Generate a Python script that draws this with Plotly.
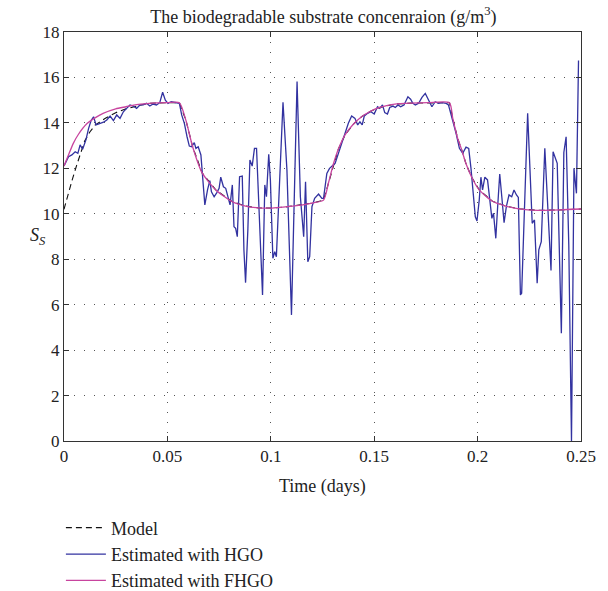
import plotly.graph_objects as go

# ---------------- data ----------------
fhgo_t = [0.0, 0.002, 0.0045, 0.007, 0.0109, 0.015, 0.0189, 0.025, 0.030, 0.035, 0.040, 0.045,
          0.050, 0.0558, 0.059, 0.0622, 0.0668, 0.0734, 0.0814, 0.0878, 0.094, 0.1006, 0.107,
          0.1135, 0.12, 0.1255, 0.128, 0.1303, 0.1327, 0.1359, 0.14, 0.1439, 0.148, 0.1519,
          0.156, 0.16, 0.168, 0.176, 0.1864, 0.188, 0.1904, 0.192, 0.1944, 0.1972, 0.2008,
          0.2072, 0.2132, 0.22, 0.229, 0.24, 0.25]
fhgo_s = [12.1, 12.55, 13.1, 13.5, 13.95, 14.22, 14.42, 14.62, 14.71, 14.8, 14.85, 14.88,
          14.89, 14.89, 14.1, 12.95, 11.8, 11.05, 10.53, 10.34, 10.26, 10.25, 10.3,
          10.37, 10.47, 10.6, 11.4, 12.2, 12.85, 13.47, 13.95, 14.27, 14.5, 14.66,
          14.76, 14.83, 14.87, 14.89, 14.89, 14.2, 13.3, 12.9, 12.2, 11.6, 11.05,
          10.55, 10.35, 10.22, 10.15, 10.17, 10.21]

model_start_t = [0.0, 0.002, 0.004, 0.006, 0.008, 0.010, 0.0125, 0.015, 0.020, 0.025, 0.030, 0.035]
model_start_s = [10.2, 10.9, 11.5, 12.1, 12.7, 13.2, 13.6, 13.9, 14.2, 14.45, 14.62, 14.74]

hgo_t = [0.0, 0.0022, 0.0038, 0.0054, 0.0067, 0.0078, 0.009, 0.0106, 0.0119, 0.0131, 0.0143,
         0.0155, 0.0175, 0.0191, 0.0207, 0.0223, 0.0239, 0.0255, 0.0271, 0.0287, 0.0303,
         0.0319, 0.0335, 0.0351, 0.0367, 0.0383, 0.0399, 0.0415, 0.0431, 0.0447, 0.0463,
         0.0477, 0.049, 0.0503, 0.0519, 0.0535, 0.0558,
         0.0569, 0.0582, 0.0595, 0.0606, 0.0617, 0.063, 0.0638, 0.0649, 0.0662, 0.067,
         0.0681, 0.0694, 0.0705, 0.0713, 0.0726, 0.0739, 0.075, 0.0758, 0.0771, 0.0782,
         0.0793, 0.0803, 0.0814, 0.0822, 0.083, 0.0838, 0.0849, 0.0862, 0.087, 0.0878,
         0.0889, 0.0899, 0.091, 0.0921, 0.0931, 0.096, 0.0971, 0.0979, 0.099, 0.0998,
         0.101, 0.1019, 0.1027, 0.1043, 0.1059, 0.1078, 0.11, 0.1127, 0.1143, 0.1159,
         0.1168, 0.1179, 0.1188, 0.1199, 0.1212, 0.1231, 0.1247, 0.1255, 0.1271, 0.1284,
         0.1295, 0.1311, 0.1327, 0.1343, 0.1359, 0.1375, 0.1391, 0.1407, 0.142, 0.1431,
         0.1442, 0.1452, 0.1468, 0.1484, 0.15, 0.1516, 0.1527, 0.154, 0.1551, 0.1564,
         0.1575, 0.1591, 0.1602, 0.1615, 0.1628, 0.1644, 0.1663, 0.1676, 0.1687, 0.1699,
         0.1715, 0.1731, 0.1747, 0.1763, 0.1779, 0.1795, 0.1811, 0.1827, 0.1848, 0.1859,
         0.188, 0.1896, 0.1912, 0.1928, 0.1944, 0.1957, 0.1968, 0.1979, 0.1989, 0.1997,
         0.2008, 0.2016, 0.2024, 0.2035, 0.2048, 0.2059, 0.2069, 0.2077, 0.2088, 0.2096,
         0.2107, 0.2117, 0.2128, 0.2139, 0.2152, 0.2165, 0.2176, 0.2188, 0.2197, 0.2207,
         0.2213, 0.2242, 0.2264, 0.2275, 0.2288, 0.2296, 0.2308, 0.2325, 0.2355, 0.2365,
         0.2385, 0.2405, 0.2417, 0.2428, 0.2441, 0.2454, 0.2466, 0.2478, 0.2488]
hgo_s = [12.1, 12.51, 12.59, 12.73, 12.66, 13.03, 12.84, 13.25, 13.76, 14.1, 14.27,
         13.91, 13.98, 14.03, 14.13, 14.3, 14.1, 14.35, 14.2, 14.49, 14.64,
         14.79, 14.74, 14.64, 14.79, 14.79, 14.86, 14.74, 14.83, 14.79, 14.89,
         15.35, 15.0, 14.86, 14.93, 14.89, 14.86,
         14.35, 13.98, 13.39, 12.98, 12.95, 13.13, 12.88, 12.95, 12.59, 11.49,
         10.39, 11.05, 11.46, 10.97, 10.75, 10.93, 11.12, 11.61, 11.19, 11.12,
         10.68, 10.39, 11.27, 9.43, 9.36, 8.99, 11.63, 11.66, 8.41, 6.97,
         9.29, 12.37, 12.1, 12.88, 12.88, 6.43, 11.27, 10.75, 12.62, 11.49,
         8.04, 8.33, 8.11, 11.19, 14.91, 11.93, 5.55, 15.82, 10.75, 8.99,
         11.41, 7.89, 8.11, 10.31, 10.68, 10.87, 10.68, 10.68, 11.78, 12.0,
         12.1, 12.22, 12.66, 13.1, 13.61, 13.98, 14.3, 14.2, 13.91, 14.05,
         13.91, 14.3, 14.42, 14.49, 14.39, 14.71, 14.64, 14.79, 14.45, 14.39,
         14.68, 14.74, 14.68, 14.79, 14.71, 14.79, 15.15, 15.04, 14.86, 14.79,
         14.86, 15.12, 15.3, 15.0, 14.71, 14.93, 14.86, 14.89, 14.86, 14.79,
         14.1, 13.54, 12.88, 12.66, 12.93, 12.88, 12.0, 10.9, 9.87, 9.68,
         10.61, 11.61, 11.05, 11.61, 11.49, 10.61, 9.8, 10.02, 8.92, 10.17,
         11.75, 10.75, 9.61, 10.31, 10.83, 10.75, 11.05, 10.83, 10.72, 6.43,
         6.5, 14.42, 9.58, 9.73, 6.94, 8.41, 8.77, 12.88, 7.5, 12.73,
         12.22, 4.74, 12.7, 13.39, 8.6, 0.0, 12.0, 10.9, 16.75]

# model follows the FHGO curve once the transient is over
model_t = model_start_t + [t for t in fhgo_t if t >= 0.040]
model_s = model_start_s + [s for t, s in zip(fhgo_t, fhgo_s) if t >= 0.040]

x_ticks = [0, 0.05, 0.1, 0.15, 0.2, 0.25]
x_labels = ["0", "0.05", "0.1", "0.15", "0.2", "0.25"]
y_ticks = list(range(0, 19, 2))

FONT = "Liberation Serif"
TXT = "#222222"
FS = 18
TICK_FS = 17

fig = go.Figure()
fig.add_trace(go.Scatter(x=model_t, y=model_s, mode="lines", name="Model",
                         line=dict(color="#111111", width=1.1, dash="6px,4px"),
                         legendgroup="a"))
fig.add_trace(go.Scatter(x=hgo_t, y=hgo_s, mode="lines", name="Estimated with HGO",
                         line=dict(color="#3232A0", width=1.3), legendgroup="b"))
fig.add_trace(go.Scatter(x=fhgo_t, y=fhgo_s, mode="lines", name="Estimated with FHGO",
                         line=dict(color="#C8449E", width=1.3, shape="spline", smoothing=0.6),
                         legendgroup="c"))

axis_common = dict(
    showline=True, linecolor="#333333", linewidth=1, mirror="allticks",
    ticks="inside", ticklen=5, tickcolor="#333333", tickwidth=1,
    showgrid=True, gridcolor="#555555", gridwidth=1, griddash="1px,9px",
    zeroline=False, tickfont=dict(family=FONT, size=TICK_FS, color=TXT),
)

fig.update_xaxes(range=[0, 0.25], tickvals=x_ticks, ticktext=x_labels, **axis_common)
fig.update_yaxes(range=[0, 18], tickvals=y_ticks, **axis_common)

fig.update_layout(
    width=608, height=591,
    margin=dict(l=64, r=25, t=32, b=150),
    paper_bgcolor="white", plot_bgcolor="white",
    font=dict(family=FONT, size=FS, color=TXT),
    title=dict(text="The biodegradable substrate concenraion (g/m<sup>3</sup>)",
               x=0.532, xanchor="center", y=0.972, yanchor="middle",
               font=dict(family=FONT, size=FS, color=TXT)),
    showlegend=True,
    legend=dict(x=-0.006, xanchor="left", xref="paper", yref="container",
                y=0.138, yanchor="top", itemwidth=40,
                traceorder="grouped", tracegroupgap=0,
                font=dict(family=FONT, size=FS, color=TXT),
                bgcolor="rgba(0,0,0,0)"),
    annotations=[
        dict(text="Time (days)", xref="paper", yref="paper", x=0.5, y=-0.112,
             xanchor="center", yanchor="middle", showarrow=False,
             font=dict(family=FONT, size=FS, color=TXT)),
        dict(text="<i>S</i><sub><i>S</i></sub>", xref="paper", yref="paper", x=-0.05, y=0.5,
             xanchor="center", yanchor="middle", showarrow=False,
             font=dict(family=FONT, size=FS, color=TXT)),
    ],
)

fig.write_html("out.html")
